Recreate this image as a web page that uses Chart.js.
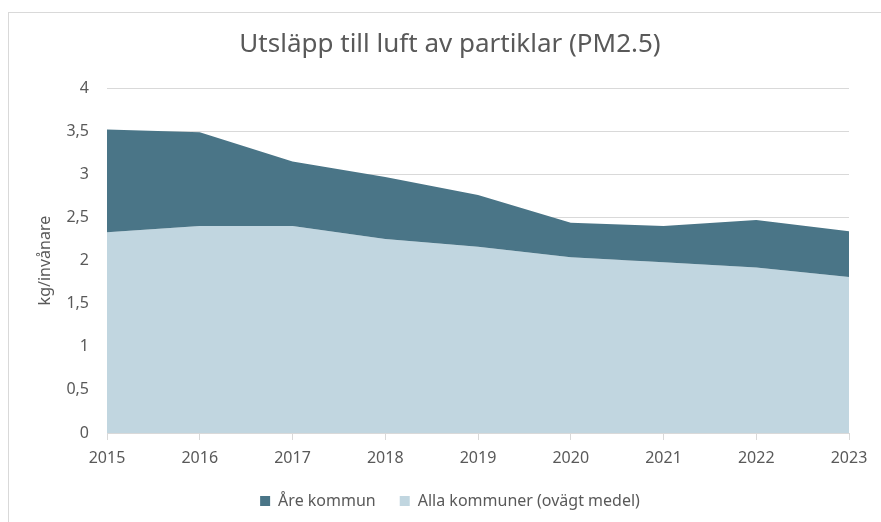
<!DOCTYPE html>
<html lang="sv">
<head>
    <meta charset="UTF-8">
    <title>Utsläpp till luft av partiklar (PM2.5)</title>
    <script src="https://cdn.jsdelivr.net/npm/chart.js"></script>
    <style>
        html, body { margin: 0; padding: 0; background: #ffffff; overflow: hidden; }
        .frame {
            position: absolute;
            left: 8px;
            top: 12px;
            width: 886px;
            height: 512px;
            border: 1px solid #d9d9d9;
        }
    </style>
</head>
<body>

<div class="frame">
    <canvas id="pmChart" width="886" height="512"></canvas>
</div>

<script>
    // år på x-axeln
    const years = ['2015', '2016', '2017', '2018', '2019', '2020', '2021', '2022', '2023'];

    // kg/invånare
    const areKommun = [3.52, 3.49, 3.15, 2.97, 2.76, 2.44, 2.40, 2.47, 2.34];
    const allaKommuner = [2.33, 2.40, 2.40, 2.25, 2.16, 2.04, 1.98, 1.92, 1.81];

    const seriesNames = ['Åre kommun', 'Alla kommuner (ovägt medel)'];
    const yTicks = [0, 0.5, 1, 1.5, 2, 2.5, 3, 3.5, 4];

    const textColor = '#595959';
    const gridColor = '#d9d9d9';

    Chart.defaults.font.family = "'Noto Sans', 'DejaVu Sans', sans-serif";
    Chart.defaults.color = textColor;

    const ctx = document.getElementById('pmChart').getContext('2d');

    new Chart(ctx, {
        type: 'line',
        data: {
            labels: years,
            datasets: [
                {
                    label: seriesNames[0],
                    data: areKommun,
                    backgroundColor: '#4a7587',
                    borderColor: '#4a7587',
                    borderWidth: 0,
                    pointRadius: 0,
                    fill: '+1'
                },
                {
                    label: seriesNames[1],
                    data: allaKommuner,
                    backgroundColor: '#c1d6e0',
                    borderColor: '#c1d6e0',
                    borderWidth: 0,
                    pointRadius: 0,
                    fill: 'origin'
                }
            ]
        },
        options: {
            responsive: false,
            animation: false,
            layout: {
                padding: { left: 42, right: 46, top: 0, bottom: 6 }
            },
            plugins: {
                title: {
                    display: true,
                    text: 'Utsläpp till luft av partiklar (PM2.5)',
                    color: textColor,
                    font: { size: 26, weight: 'normal' },
                    padding: { top: 16, bottom: 28 }
                },
                legend: {
                    position: 'bottom',
                    labels: {
                        boxWidth: 10,
                        boxHeight: 10,
                        padding: 24,
                        color: textColor,
                        font: { size: 16 }
                    }
                },
                tooltip: { enabled: false }
            },
            scales: {
                x: {
                    offset: false,
                    grid: {
                        drawOnChartArea: false,
                        drawTicks: true,
                        tickLength: 7,
                        color: gridColor
                    },
                    border: { display: true, color: gridColor },
                    ticks: {
                        padding: 9,
                        color: textColor,
                        font: { size: 16 },
                        maxRotation: 0
                    },
                    afterFit: scale => { scale.height = 36; }
                },
                y: {
                    min: 0,
                    max: 4,
                    afterBuildTicks: scale => {
                        scale.ticks = yTicks.map(v => ({ value: v }));
                    },
                    grid: {
                        color: gridColor,
                        drawTicks: false
                    },
                    border: { display: false },
                    ticks: {
                        padding: 18,
                        color: textColor,
                        font: { size: 16 },
                        callback: value => String(value).replace('.', ',')
                    },
                    title: {
                        display: true,
                        text: 'kg/invånare',
                        color: textColor,
                        font: { size: 16 },
                        padding: { top: -15, bottom: 0 }
                    },
                    afterFit: scale => { scale.width = 56; }
                }
            }
        }
    });
</script>

</body>
</html>
